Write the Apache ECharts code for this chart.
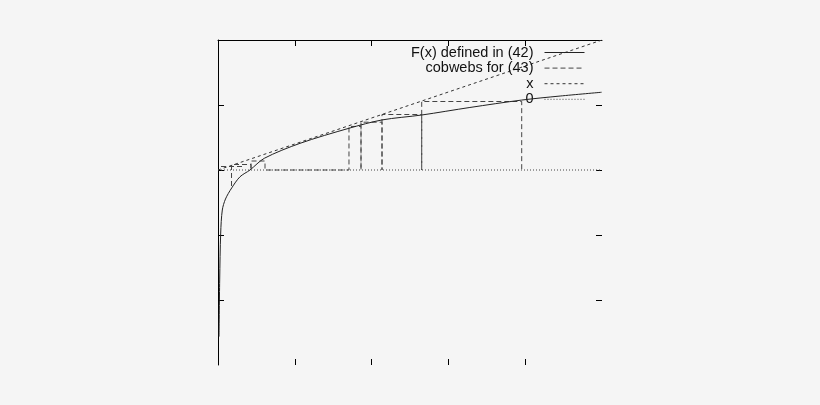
<!DOCTYPE html>
<html>
<head>
<meta charset="utf-8">
<script src="https://cdn.jsdelivr.net/npm/echarts@6/dist/echarts.min.js"></script>
<style>
html,body{margin:0;padding:0;background:#f5f5f5;}
#c{width:820px;height:405px;}
</style>
</head>
<body>
<div id="c"></div>
<script>
// ---- data ----
var seriesNames = ['F(x) defined in (42)', 'cobwebs for (43)', 'x', '0'];
var fX = [0.026, 0.044, 0.070, 0.112, 0.195, 0.357, 0.573, 0.833, 1.206, 2.135, 3.411, 4.271, 5.305, 6.56, 7.91, 8.91, 9.99];
var fY = [-12.82, -8.46, -4.85, -3.08, -2.23, -1.38, -0.52, 0.0, 0.90, 2.05, 3.21, 3.85, 4.23, 4.81, 5.38, 5.69, 5.98];
// cobweb path (null = break)
var cobX = [0.078, 0.651, null, 0.352, 0.352, 0.859, 0.859, 0.859, 1.224, 1.224, 3.411, 3.411, 3.724, 3.724, 3.724, 4.271, 4.271, 4.271, 5.305, 5.305, 5.305, 7.909, 7.909];
var cobY = [0.269, 0.269, null, -1.23, 0.423, 0.423, 0.0, 0.692, 0.692, 0.0, 0.0, 3.35, 3.35, 0.0, 3.677, 3.677, 0.0, 4.269, 4.269, 0.0, 5.269, 5.269, 0.0];
var diagX = [0, 10];
var diagY = [0, 10];
var zeroX = [0, 10];
var zeroY = [0, 0];
var xTicks = [2, 4, 6, 8];
var yTicks = [-10, -5, 0, 5];

function pairs(xs, ys){
  var out = [];
  for (var i = 0; i < xs.length; i++) {
    out.push(xs[i] === null ? ['-', '-'] : [xs[i], ys[i]]);
  }
  return out;
}

var chart = echarts.init(document.getElementById('c'), null, {renderer: 'canvas'});
var axisCol = '#000';
var tickBase = {show: true, inside: true, length: 6, lineStyle: {color: axisCol, width: 1}};
function xa(pos, showLine){
  return {
    type: 'value', position: pos, min: 0, max: 10, interval: 2,
    axisLine: {show: showLine, onZero: false, lineStyle: {color: axisCol, width: 1}},
    axisTick: Object.assign({customValues: xTicks}, tickBase),
    axisLabel: {show: false}, splitLine: {show: false}
  };
}
function ya(pos, showLine){
  return {
    type: 'value', position: pos, min: -15, max: 10, interval: 5,
    axisLine: {show: showLine, onZero: false, lineStyle: {color: axisCol, width: 1}},
    axisTick: Object.assign({customValues: yTicks}, tickBase),
    axisLabel: {show: false}, splitLine: {show: false}
  };
}

chart.setOption({
  backgroundColor: '#f5f5f5',
  animation: false,
  grid: {left: 218, right: 218, top: 40, bottom: 40},
  xAxis: [xa('bottom', false), xa('top', true)],
  yAxis: [ya('left', true), ya('right', false)],
  legend: {
    show: true,
    orient: 'vertical', right: 230, top: 40,
    align: 'right', itemWidth: 40, itemHeight: 13, itemGap: 0.6,
    selectedMode: false,
    itemStyle: {opacity: 0},
    lineStyle: {width: 1},
    textStyle: {fontFamily: 'Liberation Sans', fontSize: 14.5, lineHeight: 13, color: '#111', padding: [0, 6, 0, 0]},
    data: seriesNames
  },
  series: [
    {name: seriesNames[3], type: 'line', data: pairs(zeroX, zeroY), symbol: 'none', z: 1,
     lineStyle: {color: '#444', width: 1, type: [1, 2]}, itemStyle: {color: '#444'}},
    {name: seriesNames[2], type: 'line', data: pairs(diagX, diagY), symbol: 'none', z: 2,
     lineStyle: {color: '#333', width: 1, type: [3, 3]}, itemStyle: {color: '#333'}},
    {name: seriesNames[1], type: 'line', data: pairs(cobX, cobY), symbol: 'none', z: 3, connectNulls: false,
     lineStyle: {color: '#444', width: 1, type: [5, 3]}, itemStyle: {color: '#444'}},
    {name: seriesNames[0], type: 'line', data: pairs(fX, fY), symbol: 'none', z: 4, smooth: 0.3,
     lineStyle: {color: '#222', width: 1}, itemStyle: {color: '#222'}}
  ]
});
</script>
</body>
</html>
